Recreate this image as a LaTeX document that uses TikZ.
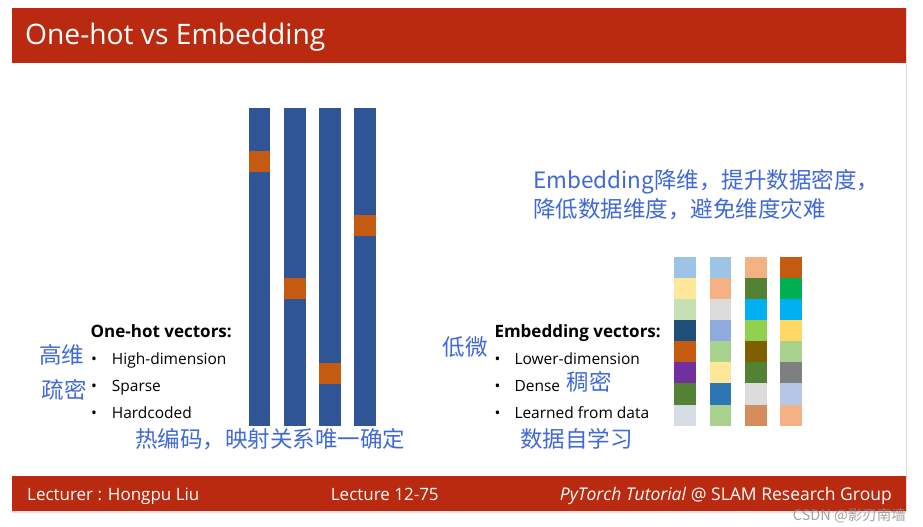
\documentclass[tikz,border=0pt]{standalone}
\usepackage{fontspec}
\setmainfont{Open Sans}
\newfontfamily\cjk{Noto Sans CJK SC}
\usetikzlibrary{positioning}

\definecolor{slidered}{RGB}{185,42,16}
\definecolor{barblue}{RGB}{47,85,151}
\definecolor{hotorange}{RGB}{197,90,17}
\definecolor{noteblue}{RGB}{64,105,215}
% cell colours
\definecolor{cLblue}{RGB}{157,195,230}
\definecolor{cLyellow}{RGB}{255,230,153}
\definecolor{cLgreen}{RGB}{197,224,180}
\definecolor{cDblue}{RGB}{31,78,121}
\definecolor{cPurple}{RGB}{112,48,160}
\definecolor{cDgreen}{RGB}{84,130,53}
\definecolor{cMist}{RGB}{214,220,229}
\definecolor{cSalmon}{RGB}{244,177,131}
\definecolor{cSilver}{RGB}{219,219,219}
\definecolor{cCorn}{RGB}{143,170,220}
\definecolor{cMgreen}{RGB}{169,209,142}
\definecolor{cMblue}{RGB}{46,117,182}
\definecolor{cCyan}{RGB}{0,176,240}
\definecolor{cLime}{RGB}{146,208,80}
\definecolor{cOlive}{RGB}{127,96,0}
\definecolor{cTan}{RGB}{213,140,92}
\definecolor{cGreen}{RGB}{0,176,80}
\definecolor{cGold}{RGB}{255,217,102}
\definecolor{cGrey}{RGB}{127,127,127}
\definecolor{cPblue}{RGB}{180,199,231}

\begin{document}
\begin{tikzpicture}[
        x = 1pt, y = -1pt,
        band/.style = {fill = slidered, minimum width = 894pt, inner sep = 0pt},
        bar/.style = {fill = barblue, minimum width = 21.5pt, minimum height = 317.7pt, inner sep = 0pt},
        hot/.style = {fill = hotorange, minimum width = 21.5pt, minimum height = 20.9pt, inner sep = 0pt},
        cell/.style = {minimum width = 21.7pt, minimum height = 21.2pt, inner sep = 0pt},
        txt/.style = {anchor = base west, inner sep = 0pt, font = \fontsize{15.5}{18}\selectfont},
        heading/.style = {txt, font = \fontsize{17}{20}\selectfont\bfseries},
        note/.style = {anchor = base west, inner sep = 0pt, text = noteblue, font = \fontsize{22.5}{27}\selectfont\cjk},
        foot/.style = {txt, text = white, font = \fontsize{17}{20}\selectfont}
    ]
    \useasboundingbox[fill = white] (0,0) rectangle (923,527);

    % slide frame
    \node[band, minimum height = 55.3pt] (header) at (459,35.65) {};
    \node[band, minimum height = 34.7pt] (footer) at (459,493.35) {};
    \node[anchor = base west, inner sep = 0pt, text = white, font = \fontsize{28.2}{33}\selectfont] (title) at (25,45) {One-hot vs Embedding};
    \draw[black!15, line width = 1.2pt] (906.6,8) -- (906.6,511);
    \draw[black!12, line width = 2pt] (12,512) -- (906,512);

    % one-hot vectors
    \node[bar] (v1) at (259.7,266.8) {};
    \node[bar] (v2) at (294.8,266.8) {};
    \node[bar] (v3) at (329.9,266.8) {};
    \node[bar] (v4) at (365.1,266.8) {};
    \node[hot] (h1) at (259.7,161.4) {};
    \node[hot] (h2) at (294.8,288.3) {};
    \node[hot] (h3) at (329.9,373.3) {};
    \node[hot] (h4) at (365.1,225.4) {};

    \node[heading] (onehot) at (90.5,337) {One-hot vectors:};
    \node[txt] (b1) at (91,364) {•};
    \node[txt] (b2) at (91,391.5) {•};
    \node[txt] (b3) at (91,418) {•};
    \node[txt] (i1) at (111.7,364) {High-dimension};
    \node[txt] (i2) at (111.7,391.5) {Sparse};
    \node[txt] (i3) at (111.7,418) {Hardcoded};
    \node[note] (n1) at (39,363.5) {高维};
    \node[note] (n2) at (41.7,398.5) {疏密};
    \node[note] (n3) at (135,447.5) {热编码，映射关系唯一确定};

    % embedding vectors
    \begin{scope}[node distance = 21.12pt, on grid]
        \node[cell, fill = cLblue] (a1) at (685.2,267.3) {};
        \node[cell, fill = cLyellow] (a2) [below = of a1] {};
        \node[cell, fill = cLgreen] (a3) [below = of a2] {};
        \node[cell, fill = cDblue] (a4) [below = of a3] {};
        \node[cell, fill = hotorange] (a5) [below = of a4] {};
        \node[cell, fill = cPurple] (a6) [below = of a5] {};
        \node[cell, fill = cDgreen] (a7) [below = of a6] {};
        \node[cell, fill = cMist] (a8) [below = of a7] {};

        \node[cell, fill = cLblue] (b1) [right = 35.2pt of a1] {};
        \node[cell, fill = cSalmon] (b2) [below = of b1] {};
        \node[cell, fill = cSilver] (b3) [below = of b2] {};
        \node[cell, fill = cCorn] (b4) [below = of b3] {};
        \node[cell, fill = cMgreen] (b5) [below = of b4] {};
        \node[cell, fill = cLyellow] (b6) [below = of b5] {};
        \node[cell, fill = cMblue] (b7) [below = of b6] {};
        \node[cell, fill = cMgreen] (b8) [below = of b7] {};

        \node[cell, fill = cSalmon] (c1) [right = 35.7pt of b1] {};
        \node[cell, fill = cDgreen] (c2) [below = of c1] {};
        \node[cell, fill = cCyan] (c3) [below = of c2] {};
        \node[cell, fill = cLime] (c4) [below = of c3] {};
        \node[cell, fill = cOlive] (c5) [below = of c4] {};
        \node[cell, fill = cDgreen] (c6) [below = of c5] {};
        \node[cell, fill = cSilver] (c7) [below = of c6] {};
        \node[cell, fill = cTan] (c8) [below = of c7] {};

        \node[cell, fill = hotorange] (d1) [right = 35.1pt of c1] {};
        \node[cell, fill = cGreen] (d2) [below = of d1] {};
        \node[cell, fill = cCyan] (d3) [below = of d2] {};
        \node[cell, fill = cGold] (d4) [below = of d3] {};
        \node[cell, fill = cMgreen] (d5) [below = of d4] {};
        \node[cell, fill = cGrey] (d6) [below = of d5] {};
        \node[cell, fill = cPblue] (d7) [below = of d6] {};
        \node[cell, fill = cSalmon] (d8) [below = of d7] {};
    \end{scope}

    \node[heading] (embed) at (494.3,337) {Embedding vectors:};
    \node[txt] (e1) at (494.5,364) {•};
    \node[txt] (e2) at (494.5,391.5) {•};
    \node[txt] (e3) at (494.5,418) {•};
    \node[txt] (j1) at (514.3,364) {Lower-dimension};
    \node[txt] (j2) at (514.3,391.5) {Dense};
    \node[txt] (j3) at (514.3,418) {Learned from data};
    \node[note] (m1) at (442.7,355) {低微};
    \node[note] (m2) at (566.7,390) {稠密};
    \node[note] (m3) at (520,447.8) {数据自学习};
    \node[note] (gist1) at (533,188.8) {Embedding降维，提升数据密度，};
    \node[note] (gist2) at (533,217.3) {降低数据维度，避免维度灾难};

    % footer texts
    \node[foot] (lecturer) at (27,500) {Lecturer : Hongpu Liu};
    \node[foot] (lecture) at (330.7,500) {Lecture 12-75};
    \node[foot, anchor = base east, font = \fontsize{17.5}{20}\selectfont] (course) at (892,500) {\textit{PyTorch Tutorial} @ SLAM Research Group};
    \node[anchor = base east, inner sep = 0pt, text = black!45, opacity = 0.8, font = \fontsize{14.5}{17}\selectfont\cjk] (mark) at (906,520.5) {CSDN @影刃南墙};
\end{tikzpicture}
\end{document}
